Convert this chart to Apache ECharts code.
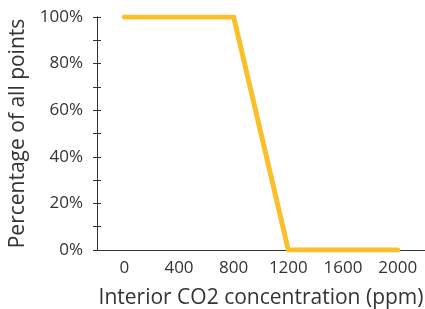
<!DOCTYPE html>
<html>
<head>
<meta charset="utf-8">
<script src="https://cdn.jsdelivr.net/npm/echarts@6/dist/echarts.min.js"></script>
<style>
  html, body { margin: 0; padding: 0; background: #fff; }
  #chart { width: 425px; height: 309px; }
</style>
</head>
<body>
<div id="chart"></div>
<script>
// CO2 concentration (ppm) vs share of points
const co2Values = [0, 800, 1200, 2000];
const percentValues = [100, 100, 0, 0];
const xTickLabels = [0, 400, 800, 1200, 1600, 2000];

const textColor = '#333333';
const fontFamily = '"Open Sans", sans-serif';

const chart = echarts.init(document.getElementById('chart'));

const baseY = {
    type: 'value',
    min: 0,
    max: 100,
    interval: 10,
    position: 'left',
    splitLine: { show: false },
    axisLine: { show: true, onZero: false, lineStyle: { color: textColor, width: 1 } }
};

const option = {
    animation: false,
    grid: { left: 97, top: 17, right: 0, bottom: 59, outerBoundsMode: 'none' },
    xAxis: {
        type: 'value',
        min: -200,
        max: 2200,
        name: 'Interior CO2 concentration (ppm)',
        nameLocation: 'middle',
        nameGap: 38,
        nameTextStyle: { fontSize: 21, color: textColor, fontFamily: fontFamily },
        axisLine: { show: true, onZero: false, lineStyle: { color: textColor, width: 1 } },
        axisTick: { show: false },
        splitLine: { show: false },
        axisLabel: {
            customValues: xTickLabels,
            margin: 10,
            fontSize: 17,
            color: textColor,
            fontFamily: fontFamily,
            formatter: v => String(v)
        }
    },
    yAxis: [
        Object.assign({}, baseY, {
            name: 'Percentage of all points',
            nameLocation: 'middle',
            nameGap: 68,
            nameTextStyle: { fontSize: 21, color: textColor, fontFamily: fontFamily },
            axisTick: { show: true, inside: false, length: 4, lineStyle: { color: textColor } },
            axisLabel: {
                margin: 14,
                fontSize: 17,
                color: textColor,
                fontFamily: fontFamily,
                formatter: v => (v % 20 === 0 ? v + '%' : '')
            }
        }),
        Object.assign({}, baseY, {
            axisTick: { show: true, inside: true, length: 4, lineStyle: { color: textColor } },
            axisLabel: { show: false }
        })
    ],
    series: [{
        type: 'line',
        data: co2Values.map((x, i) => [x, percentValues[i]]),
        showSymbol: false,
        lineStyle: { color: '#FBBF2A', width: 5, cap: 'round', join: 'round' },
        itemStyle: { color: '#FBBF2A' }
    }]
};

chart.setOption(option);
</script>
</body>
</html>
